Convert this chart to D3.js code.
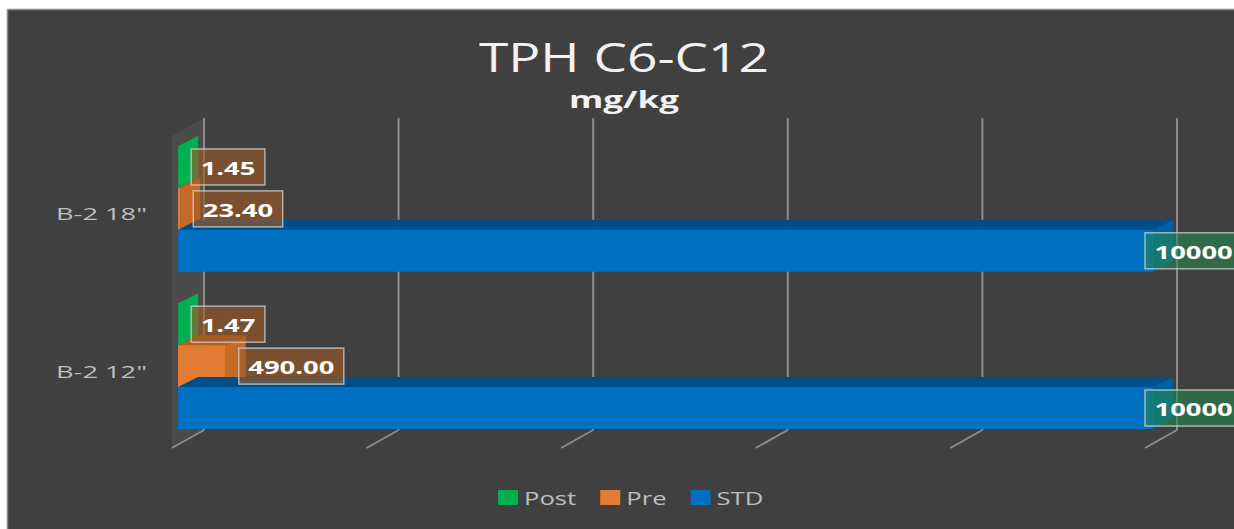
<!DOCTYPE html>
<html><head><meta charset="utf-8">
<script src="https://cdn.jsdelivr.net/npm/d3@7"></script>
<style>html,body{margin:0;padding:0;background:#fff;}svg{display:block;}</style>
</head><body>
<svg id="chart" width="1234" height="529"></svg>
<script>
// ---- data ----
const categories = ["B-2 18\"", "B-2 12\""];
const seriesNames = ["Post", "Pre", "STD"];
const postValues = [1.45, 1.47];
const preValues = [23.40, 490.00];
const stdValues = [10000, 10000];
const labelText = {
  Post: ["1.45", "1.47"],
  Pre: ["23.40", "490.00"],
  STD: ["10000", "10000"]
};
const gridTicks = [0, 2000, 4000, 6000, 8000, 10000];
const title = "TPH C6-C12";
const subtitle = "mg/kg";

const seriesValues = {Post: postValues, Pre: preValues, STD: stdValues};
const colors = {
  Post: {front: "#00b050", top: "#008a3e", side: "#00a049"},
  Pre:  {front: "#e27c32", top: "#b45f20", side: "#c66a26"},
  STD:  {front: "#0070c0", top: "#004f88", side: "#005fa3"}
};
const labelFill = {Post: "rgba(160,90,40,0.62)", Pre: "rgba(160,90,40,0.62)", STD: "rgba(36,136,80,0.6)"};

const svg = d3.select("#chart");
const font = "'Open Sans', 'Noto Sans', sans-serif";

// horizontal stretch of text (reference image is widened)
function stretch(sel, k) {
  const w = sel.node().getComputedTextLength();
  sel.attr("textLength", w * k).attr("lengthAdjust", "spacingAndGlyphs");
  return w * k;
}

// chart area background
svg.append("rect").attr("x", 7.5).attr("y", 9.5).attr("width", 1240).attr("height", 540)
  .attr("fill", "#404040").attr("stroke", "#8a8a8a").attr("stroke-width", 1.5);

// scales
const xBack = d3.scaleLinear().domain([0, 10000]).range([204, 1177]);
const xFront = d3.scaleLinear().domain([0, 10000]).range([178, 1153]);
const yBand = d3.scaleBand().domain(categories).range([146, 429]).paddingInner(0.2);
const ySeries = d3.scaleBand().domain(seriesNames).range([0, yBand.bandwidth()]);
const wallTop = 118, wallBottom = 430;
const floorDX = -32, floorDY = 18;
const barDX = 20, barDY = -10;

// left side wall
svg.append("path")
  .attr("d", `M${xBack(0)},${wallTop} L${xBack(0)},${wallBottom} L${xBack(0)+floorDX},${wallBottom+floorDY} L${xBack(0)+floorDX},${wallTop+floorDY} Z`)
  .attr("fill", "rgba(255,255,255,0.06)");

// gridlines on back wall + floor
const grid = svg.append("g");
grid.selectAll("line.v").data(gridTicks).join("line")
  .attr("x1", d => xBack(d)).attr("x2", d => xBack(d))
  .attr("y1", wallTop).attr("y2", wallBottom)
  .attr("stroke", "#8c8c8c").attr("stroke-width", 2);
grid.selectAll("line.f").data(gridTicks).join("line")
  .attr("x1", d => xBack(d)).attr("x2", d => xBack(d) + floorDX)
  .attr("y1", wallBottom).attr("y2", wallBottom + floorDY)
  .attr("stroke", "#8c8c8c").attr("stroke-width", 2);

// bars
const bars = svg.append("g");
categories.forEach((cat, ci) => {
  seriesNames.forEach(s => {
    const v = seriesValues[s][ci];
    const x0 = xFront(0), x1 = xFront(v);
    const y0 = yBand(cat) + ySeries(s), h = ySeries.bandwidth();
    const c = colors[s];
    bars.append("path")
      .attr("d", `M${x0},${y0} L${x0+barDX},${y0+barDY} L${x1+barDX},${y0+barDY} L${x1},${y0} Z`)
      .attr("fill", c.top);
    bars.append("rect").attr("x", x0).attr("y", y0).attr("width", Math.max(0, x1 - x0)).attr("height", h)
      .attr("fill", c.front);
    bars.append("path")
      .attr("d", `M${x1},${y0} L${x1+barDX},${y0+barDY} L${x1+barDX},${y0+barDY+h} L${x1},${y0+h} Z`)
      .attr("fill", s === "Post" ? c.front : c.side);
  });
});

// data labels
const labels = svg.append("g");
categories.forEach((cat, ci) => {
  seriesNames.forEach(s => {
    const v = seriesValues[s][ci];
    const yc = yBand(cat) + ySeries(s) + ySeries.bandwidth() / 2;
    const g = labels.append("g");
    const t = g.append("text").text(labelText[s][ci])
      .attr("font-family", font).attr("font-weight", "bold").attr("font-size", 18)
      .attr("fill", "#ffffff").attr("dominant-baseline", "central");
    const tw = stretch(t, 1.52);
    const bw = tw + 19, bh = 36;
    const bx = s === "STD" ? xFront(v) - 8 : xFront(v) + 13;
    g.insert("rect", "text").attr("x", bx).attr("y", yc - bh / 2).attr("width", bw).attr("height", bh)
      .attr("fill", labelFill[s]).attr("stroke", "rgba(210,210,210,0.75)").attr("stroke-width", 1.5);
    t.attr("x", bx + 9.5).attr("y", yc + 1);
  });
});

// category labels
svg.append("g").selectAll("text").data(categories).join("text")
  .attr("x", 147).attr("y", d => yBand(d) + yBand.bandwidth() / 2 + 5)
  .attr("text-anchor", "end").attr("dominant-baseline", "central")
  .attr("font-family", font).attr("font-size", 17).attr("fill", "#bfbfbf")
  .text(d => d)
  .each(function() { stretch(d3.select(this), 1.6); });

// title
const tt = svg.append("text").attr("x", 624).attr("y", 72).attr("text-anchor", "middle")
  .attr("font-family", font).attr("font-size", 40).attr("fill", "#f2f2f2").text(title);
stretch(tt, 290 / tt.node().getComputedTextLength());
const st = svg.append("text").attr("x", 624).attr("y", 108).attr("text-anchor", "middle")
  .attr("font-family", font).attr("font-weight", "bold").attr("font-size", 24).attr("fill", "#f2f2f2").text(subtitle);
stretch(st, 110 / st.node().getComputedTextLength());

// legend
const legend = svg.append("g");
let lx = 498;
seriesNames.forEach(s => {
  legend.append("rect").attr("x", lx).attr("y", 490).attr("width", 20).attr("height", 15).attr("fill", colors[s].front);
  const t = legend.append("text").attr("x", lx + 26).attr("y", 498).attr("dominant-baseline", "central")
    .attr("font-family", font).attr("font-size", 19).attr("fill", "#bfbfbf").text(s);
  const w = stretch(t, 1.35);
  lx += 26 + w + 24;
});
</script>
</body></html>
